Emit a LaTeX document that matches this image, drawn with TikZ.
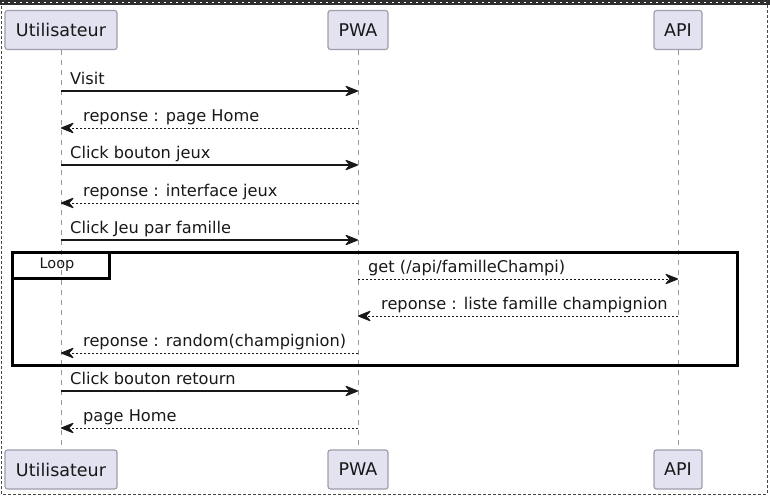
\documentclass[tikz,border=0pt]{standalone}
\usepackage{fontspec}
\setmainfont{DejaVu Sans}
\usetikzlibrary{arrows.meta}
\definecolor{partfill}{RGB}{226,226,240}
\definecolor{partdraw}{RGB}{158,158,172}
\definecolor{ink}{RGB}{24,24,24}
\definecolor{lifegray}{RGB}{150,150,150}
\begin{document}
\begin{tikzpicture}[x=1pt,y=-1pt,
  >={Stealth[length=15pt,width=12pt,inset=5.5pt,line width=1.2pt,round]},
  part/.style={draw=partdraw,fill=partfill,line width=1.2pt,rounded corners=2.5pt,
    minimum height=39pt,inner sep=0pt,font=\fontsize{17.5}{20}\selectfont,text=ink},
  life/.style={draw=lifegray,line width=0.8pt,dash pattern=on 5pt off 5pt},
  sync/.style={draw=ink,line width=1.2pt,->},
  rep/.style={draw=ink,line width=0.9pt,dash pattern=on 2pt off 2pt,->},
  lbl/.style={anchor=base west,inner sep=0pt,font=\fontsize{16.2}{18}\selectfont,text=ink},
  loopbox/.style={draw=black,line width=3pt}]
\useasboundingbox (0,0) rectangle (770,496);
% outer frame
\draw[draw=ink!80,line width=0.8pt,dash pattern=on 3pt off 2pt] (1,1) rectangle (767,494);
\draw[draw=ink!90,line width=5pt] (0,2.5) -- (770,2.5);
\draw[draw=white,line width=1.6pt,dash pattern=on 1.6pt off 4.4pt] (2,2.5) -- (770,2.5);
% participants
\node[part,minimum width=112pt] (uT) at (61,30) {Utilisateur};
\node[part,minimum width=60pt] (pT) at (358,30) {PWA};
\node[part,minimum width=48pt] (aT) at (678,30) {API};
\node[part,minimum width=112pt] (uB) at (61,469.5) {Utilisateur};
\node[part,minimum width=60pt] (pB) at (358,469.5) {PWA};
\node[part,minimum width=48pt] (aB) at (678,469.5) {API};
% lifelines
\draw[life] (uT.south) -- (uB.north);
\draw[life] (pT.south) -- (pB.north);
\draw[life] (aT.south) -- (aB.north);
% rows
\coordinate (r1) at (0,91);
\coordinate (r2) at (0,128);
\coordinate (r3) at (0,165);
\coordinate (r4) at (0,203);
\coordinate (r5) at (0,240);
\coordinate (r6) at (0,279);
\coordinate (r7) at (0,316);
\coordinate (r8) at (0,353);
\coordinate (r9) at (0,391);
\coordinate (r10) at (0,428);
% loop frame
\draw[loopbox] (12,252) rectangle (737,365);
\draw[loopbox] (12,252) rectangle (109,278);
\node[font=\fontsize{14.5}{16}\selectfont,text=ink] (looplbl) at (57,265) {Loop};
% messages
\draw[sync] (uT |- r1) -- (pT |- r1);
\node[lbl] (m1) at (70,84) {Visit};
\draw[rep] (pT |- r2) -- (uT |- r2);
\node[lbl] (m2) at (83,121) {reponse : page Home};
\draw[sync] (uT |- r3) -- (pT |- r3);
\node[lbl] (m3) at (70,158) {Click bouton jeux};
\draw[rep] (pT |- r4) -- (uT |- r4);
\node[lbl] (m4) at (83,196) {reponse : interface jeux};
\draw[sync] (uT |- r5) -- (pT |- r5);
\node[lbl] (m5) at (70,233) {Click Jeu par famille};
\draw[rep] (pT |- r6) -- (aT |- r6);
\node[lbl] (m6) at (368,272) {get (/api/familleChampi)};
\draw[rep] (aT |- r7) -- (pT |- r7);
\node[lbl] (m7) at (381,309) {reponse : liste famille champignion};
\draw[rep] (pT |- r8) -- (uT |- r8);
\node[lbl] (m8) at (83,346) {reponse : random(champignion)};
\draw[sync] (uT |- r9) -- (pT |- r9);
\node[lbl] (m9) at (70,384) {Click bouton retourn};
\draw[rep] (pT |- r10) -- (uT |- r10);
\node[lbl] (m10) at (83,421) {page Home};
\end{tikzpicture}
\end{document}
